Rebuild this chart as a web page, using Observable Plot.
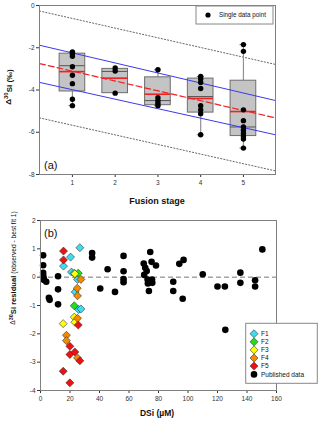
<!DOCTYPE html>
<html><head><meta charset="utf-8">
<script src="https://cdn.jsdelivr.net/npm/d3@7"></script>
<script src="https://cdn.jsdelivr.net/npm/@observablehq/plot@0.6"></script>
<style>body{margin:0;background:#fff} #c{width:320px} svg{display:block}</style>
</head><body><div id="c"></div>
<script>
// ---------- Panel (a) data ----------
const stages = [1, 2, 3, 4, 5];
const boxQ1 = [-4.07, -4.15, -4.72, -5.07, -6.18];
const boxQ3 = [-2.28, -3.0, -3.4, -3.46, -3.56];
const boxMedian = [-2.85, -3.12, -4.5, -4.31, -5.75];
const boxMean = [-3.13, -3.44, -4.2, -4.4, -5.02];
const whiskerHigh = [-2.2, -3.0, -3.04, -3.36, -1.85];
const whiskerLow = [-4.74, -4.15, -4.74, -6.12, -6.75];
const stage1 = [-2.2, -2.3, -2.4, -2.9, -3.3, -3.7, -4.44, -4.74];
const stage2 = [-2.96, -3.1, -4.15];
const stage3 = [-3.04, -4.37, -4.51, -4.63, -4.74];
const stage4 = [-3.36, -3.48, -3.64, -3.93, -4.74, -4.94, -5.12, -6.12];
const stage5 = [-1.85, -2.17, -4.94, -5.45, -5.75, -5.9, -6.06, -6.2, -6.32, -6.75];
const fitX = [0.23, 5.75];
const bestFit = [-2.75, -5.32];
const confUpper = [-1.88, -4.5];
const confLower = [-3.64, -6.12];
const predUpper = [-0.26, -2.79];
const predLower = [-5.32, -7.83];
const yTicksA = [0, -2, -4, -6, -8];

// ---------- Panel (b) data ----------
const pubX = [1.8, 1.8, 1.8, 1.8, 2.2, 2.4, 3.9, 5.7, 6.2, 11.9, 11.9, 11.9, 35, 35, 40.5, 45.5, 50.5, 56.3, 56.3, 56.3, 56.3,
  70, 70.3, 71, 72, 72.6, 72.8, 73.5, 74.4, 75.3, 75.6, 75.8, 78.3, 90, 90, 94.1, 97, 96.4, 110, 120, 125, 125.3, 135.5, 135.5, 145.5, 145.5, 150.4];
const pubY = [0.77, 0.42, 0.15, 0.06, -0.04, -0.1, -0.16, -0.73, -0.8, 0.03, -0.43, -0.96, 0.85, 0.69, -0.4, 0.28, -0.52, 0.75, 0.21, -0.07, -0.18,
  0.48, 0.08, 0.33, 0.22, -0.08, -0.22, -0.49, 0.89, 0.54, -0.08, -0.2, 0.41, -0.16, -0.49, 0.47, 0.61, -0.76, 0.1, -0.33, -0.33, -1.86, 0.16, -0.2, -0.11, -0.33, 0.98];
const f1X = [26.7, 20.4, 15.6, 21, 22.9, 25.1, 23.5, 25.8, 27.4];
const f1Y = [1.04, 0.71, 0.39, 0.18, 0.14, -0.08, -0.52, -1.14, -1.12];
const f2X = [25.6, 22.9];
const f2Y = [0.14, -1.01];
const f3X = [23.3, 15.4, 22.9, 23.3];
const f3Y = [0.12, -1.64, -1.41, -1.59];
const f4X = [27.4, 24.9, 25.1, 25.1, 17.6, 17.6, 25.1];
const f4Y = [-0.08, -0.39, -0.66, -1.45, -2.05, -2.24, -2.85];
const f5X = [15.6, 15.6, 25.6, 19.9, 19.9, 23.3, 26.7, 15.4, 19.9];
const f5Y = [0.92, 0.61, -1.69, -2.44, -2.73, -2.64, -2.95, -3.32, -3.73];
const groupNames = ["F1", "F2", "F3", "F4", "F5"];
const groupColors = ["#3fdcf0", "#1ee01e", "#ffff00", "#f58a00", "#ee1111"];
const pubLabel = "Published data";
const xTicksB = [0, 20, 40, 60, 80, 100, 120, 140, 160];
const yTicksB = [2, 1, 0, -1, -2, -3, -4];

// ---------- build tables ----------
const boxes = stages.map((s, i) => ({stage: s, q1: boxQ1[i], q3: boxQ3[i], med: boxMedian[i], mean: boxMean[i], lo: whiskerLow[i], hi: whiskerHigh[i]}));
const pts = [stage1, stage2, stage3, stage4, stage5].flatMap((arr, i) => arr.map(v => ({stage: stages[i], v})));
const lineTable = ys => fitX.map((x, i) => ({x, y: ys[i]}));
const HW = 0.3, CW = 0.08;
const FONT = "'Liberation Sans', Arial, sans-serif";

const plotA = Plot.plot({
  width: 320, height: 210, marginLeft: 39, marginRight: 45, marginTop: 5, marginBottom: 36,
  style: {fontFamily: FONT, fontSize: "6.5px", background: "white", color: "#333"},
  x: {domain: [0.23, 5.75], ticks: stages, tickFormat: d => String(d), label: null, tickSize: 3, tickPadding: 3},
  y: {domain: [-8, 0], ticks: yTicksA, tickFormat: d => String(d), label: null, tickSize: 3, tickPadding: 2},
  marks: [
    Plot.line(lineTable(predUpper), {x: "x", y: "y", stroke: "#666", strokeWidth: 1, strokeDasharray: "1.2,2"}),
    Plot.line(lineTable(predLower), {x: "x", y: "y", stroke: "#666", strokeWidth: 1, strokeDasharray: "1.2,2"}),
    Plot.ruleX(boxes, {x: "stage", y1: "q3", y2: "hi", stroke: "#909090", strokeWidth: 1.2}),
    Plot.ruleX(boxes, {x: "stage", y1: "q1", y2: "lo", stroke: "#909090", strokeWidth: 1.2}),
    Plot.ruleY(boxes.filter(d => d.hi !== d.q3), {y: "hi", x1: d => d.stage - CW, x2: d => d.stage + CW, stroke: "#707070"}),
    Plot.ruleY(boxes.filter(d => d.lo !== d.q1), {y: "lo", x1: d => d.stage - CW, x2: d => d.stage + CW, stroke: "#707070"}),
    Plot.rect(boxes, {x1: d => d.stage - HW, x2: d => d.stage + HW, y1: "q1", y2: "q3", fill: "#c4c4c4", stroke: "#6e6e6e", strokeWidth: 1}),
    Plot.ruleY(boxes, {y: "med", x1: d => d.stage - HW, x2: d => d.stage + HW, stroke: "#555", strokeWidth: 1}),
    Plot.ruleY(boxes, {y: "mean", x1: d => d.stage - HW, x2: d => d.stage + HW, stroke: "#ee2222", strokeWidth: 1.6}),
    Plot.line(lineTable(confUpper), {x: "x", y: "y", stroke: "#3a3aee", strokeWidth: 1}),
    Plot.line(lineTable(confLower), {x: "x", y: "y", stroke: "#3a3aee", strokeWidth: 1}),
    Plot.line(lineTable(bestFit), {x: "x", y: "y", stroke: "#ee2222", strokeWidth: 1.2, strokeDasharray: "6,3"}),
    Plot.dot(pts, {x: "stage", y: "v", r: 2.7, fill: "black"}),
    Plot.frame({stroke: "#808080"})
  ]
});

const pub = pubX.map((x, i) => ({x, y: pubY[i]}));
const groups = [[f1X, f1Y], [f2X, f2Y], [f3X, f3Y], [f4X, f4Y], [f5X, f5Y]];
const fus = groups.flatMap(([xs, ys], g) => xs.map((x, i) => ({x, y: ys[i], g: groupNames[g]})));

const plotB = Plot.plot({
  width: 320, height: 211, marginLeft: 40, marginRight: 44, marginTop: 10, marginBottom: 31,
  style: {fontFamily: FONT, fontSize: "6.5px", background: "white", color: "#333"},
  x: {domain: [0, 160], ticks: xTicksB, tickFormat: d => String(d), label: null, tickSize: 3, tickPadding: 3},
  y: {domain: [-4, 2], ticks: yTicksB, tickFormat: d => String(d), label: null, tickSize: 3, tickPadding: 2},
  color: {domain: groupNames, range: groupColors},
  marks: [
    Plot.ruleY([0], {stroke: "#777", strokeWidth: 1, strokeDasharray: "5,3"}),
    Plot.dot(pub, {x: "x", y: "y", r: 3.3, fill: "black"}),
    Plot.dot(fus, {x: "x", y: "y", fill: "g", symbol: "diamond2", r: 3.6, stroke: "#333", strokeWidth: 0.6}),
    Plot.frame({stroke: "#808080"})
  ]
});

const c = document.getElementById("c");
c.appendChild(plotA);
c.appendChild(plotB);

// ---------- annotations (a) ----------
const sa = d3.select(plotA);
const ylabA = sa.append("text").attr("transform", "translate(11,87) rotate(-90)")
  .attr("text-anchor", "middle").attr("font-family", FONT).attr("font-size", "8px").attr("font-weight", "bold").attr("fill", "#111");
ylabA.append("tspan").text("Δ");
ylabA.append("tspan").attr("dy", "-0.45em").attr("font-size", "6px").text("30");
ylabA.append("tspan").attr("dy", "0.45em").text("Si (‰)");
sa.append("text").attr("x", 157).attr("y", 204).attr("text-anchor", "middle").attr("font-family", FONT)
  .attr("font-size", "9px").attr("font-weight", "bold").attr("fill", "#111").text("Fusion stage");
sa.append("text").attr("x", 44).attr("y", 169).attr("text-anchor", "start").attr("font-family", FONT).attr("font-size", "11px").attr("fill", "#111").text("(a)");
const la = sa.append("g").attr("text-anchor", "start");
la.append("rect").attr("x", 196).attr("y", 6).attr("width", 77).attr("height", 18).attr("fill", "white").attr("stroke", "#888");
la.append("circle").attr("cx", 208).attr("cy", 15).attr("r", 2.6).attr("fill", "black");
la.append("text").attr("x", 219).attr("y", 17.3).attr("text-anchor", "start").attr("font-family", FONT).attr("font-size", "6.3px").attr("fill", "#111").text("Single data point");

// ---------- annotations (b) ----------
const sb = d3.select(plotB);
const ylabB = sb.append("text").attr("transform", "translate(15,58) rotate(-90)")
  .attr("text-anchor", "middle").attr("font-family", FONT).attr("font-size", "6.6px").attr("fill", "#111");
ylabB.append("tspan").text("Δ");
ylabB.append("tspan").attr("dy", "-0.45em").attr("font-size", "5.5px").attr("font-weight", "bold").text("30");
ylabB.append("tspan").attr("dy", "0.45em").attr("font-weight", "bold").attr("font-size", "7.6px").text("Si residual ");
ylabB.append("tspan").text("(observed - best fit 1)");
sb.append("text").attr("x", 157).attr("y", 206).attr("text-anchor", "middle").attr("font-family", FONT)
  .attr("font-size", "8.5px").attr("font-weight", "bold").attr("fill", "#111").text("DSi (µM)");
sb.append("text").attr("x", 44).attr("y", 27).attr("text-anchor", "start").attr("font-family", FONT).attr("font-size", "11px").attr("fill", "#111").text("(b)");
const lb = sb.append("g").attr("text-anchor", "start");
lb.append("rect").attr("x", 245.7).attr("y", 113.3).attr("width", 71.6).attr("height", 60).attr("fill", "white").attr("stroke", "#888");
const sym = d3.symbol(d3.symbolDiamond2, Math.PI * 3.6 * 3.6);
groupNames.forEach((n, i) => {
  const yy = 123.7 + i * 8.1;
  lb.append("path").attr("d", sym()).attr("transform", `translate(254,${yy})`).attr("fill", groupColors[i]).attr("stroke", "#333").attr("stroke-width", 0.6);
  lb.append("text").attr("x", 261).attr("y", yy + 2.3).attr("text-anchor", "start").attr("font-family", FONT).attr("font-size", "6.5px").attr("fill", "#111").text(n);
});
lb.append("circle").attr("cx", 254).attr("cy", 164.4).attr("r", 3.3).attr("fill", "black");
lb.append("text").attr("x", 261).attr("y", 166.7).attr("text-anchor", "start").attr("font-family", FONT).attr("font-size", "6.5px").attr("fill", "#111").text(pubLabel);
</script>
</body></html>
